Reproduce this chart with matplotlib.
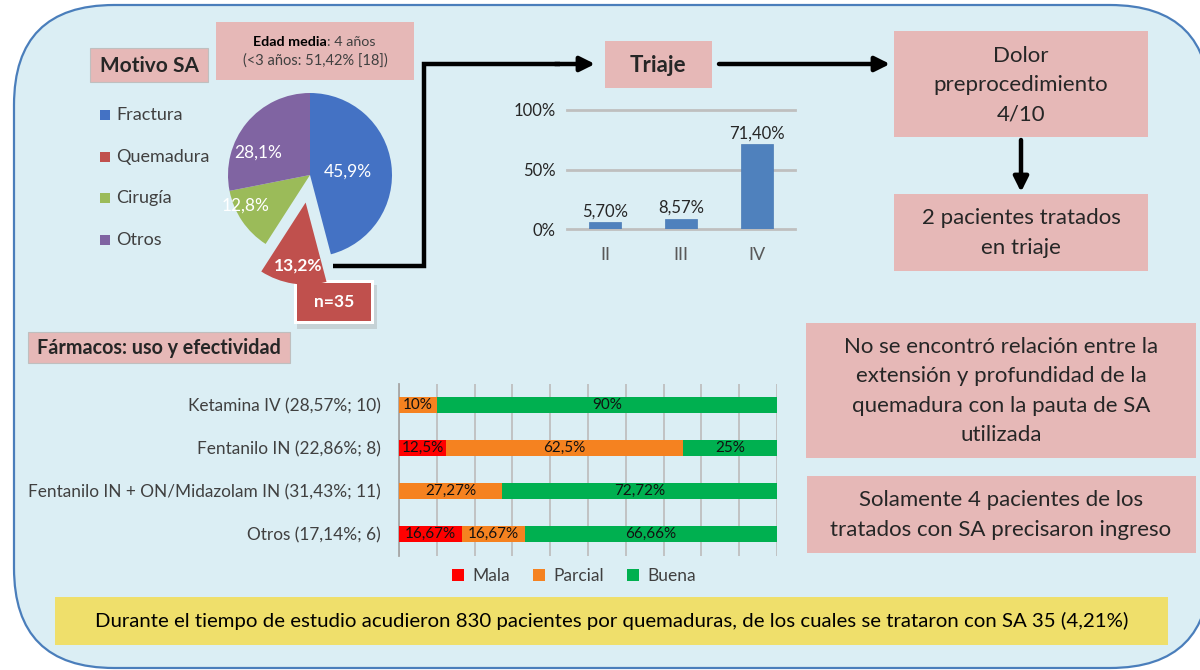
import matplotlib
matplotlib.use("Agg")
import matplotlib.pyplot as plt
from matplotlib.patches import FancyBboxPatch, Rectangle, Patch
import numpy as np

plt.rcParams['font.family'] = ['Lato', 'DejaVu Sans']

# ---------------- data ----------------
motivo_labels = ["Fractura", "Quemadura", "Cirugía", "Otros"]
motivo_values = [45.9, 13.2, 12.8, 28.1]
motivo_colors = ["#4472C4", "#C0504D", "#9BBB59", "#8064A2"]

triaje_cats = ["II", "III", "IV"]
triaje_values = [5.70, 8.57, 71.40]
triaje_labels = ["5,70%", "8,57%", "71,40%"]

farmacos = ["Ketamina IV (28,57%; 10)", "Fentanilo IN (22,86%; 8)",
            "Fentanilo IN + ON/Midazolam IN (31,43%; 11)", "Otros (17,14%; 6)"]
mala = [0, 12.5, 0, 16.67]
parcial = [10, 62.5, 27.27, 16.67]
buena = [90, 25, 72.72, 66.66]
mala_lbl = ["", "12,5%", "", "16,67%"]
parcial_lbl = ["10%", "62,5%", "27,27%", "16,67%"]
buena_lbl = ["90%", "25%", "72,72%", "66,66%"]
efect_names = ["Mala", "Parcial", "Buena"]
efect_colors = ["#FF0000", "#F58220", "#00B050"]

W, H = 1200, 670
PINK = "#E6B8B7"
TXT = "#262626"

fig = plt.figure(figsize=(12, 6.7), dpi=100)
fig.patch.set_facecolor("white")

bg = fig.add_axes([0, 0, 1, 1])
bg.set_xlim(0, W)
bg.set_ylim(H, 0)
bg.axis("off")


def frac(x0, y0, x1, y1):
    return [x0 / W, 1 - y1 / H, (x1 - x0) / W, (y1 - y0) / H]


# big rounded background
bg.add_patch(FancyBboxPatch((14, 5), 1196, 663,
                            boxstyle="round,pad=0,rounding_size=100",
                            facecolor="#DBEEF4", edgecolor="#4A7EBB", lw=1.6))


def box(x0, y0, x1, y1, color=PINK, ec="none", lw=0.8):
    bg.add_patch(Rectangle((x0, y0), x1 - x0, y1 - y0, facecolor=color,
                           edgecolor=ec, lw=lw))


# ---------- top-left: Motivo SA ----------
box(90, 48, 208, 82, ec="#BFBFBF")
bg.text(149, 66, "Motivo SA", ha="center", va="center", fontsize=15,
        fontweight="bold", color=TXT)

box(216, 22, 414, 80)
t1 = bg.text(253, 42, "Edad media", ha="left", va="center", fontsize=10.3,
             fontweight="bold", color="black")
bg.annotate(": 4 años", xy=(1, 0.5), xycoords=t1, ha="left", va="center",
            fontsize=10.3, color="#404040")
bg.text(315, 61, "(<3 años: 51,42% [18])", ha="center", va="center",
        fontsize=10.5, color="#404040")

# legend of the pie
for i, (lab, col) in enumerate(zip(motivo_labels, motivo_colors)):
    y = 115 + i * 41.7
    bg.add_patch(Rectangle((100, y - 5), 10, 10, facecolor=col, edgecolor="none"))
    bg.text(116, y, lab, ha="left", va="center", fontsize=13, color="#404040")

# pie
R = 82
cx, cy = 310, 175
axp = fig.add_axes(frac(cx - 1.5 * R, cy - 1.5 * R, cx + 1.5 * R, cy + 1.5 * R))
wedges, _, autot = axp.pie(
    motivo_values, colors=motivo_colors, startangle=90, counterclock=False,
    explode=[0, 0.34, 0, 0], radius=1,
    autopct=lambda p: f"{p:.1f}".replace(".", ",") + "%",
    wedgeprops=dict(linewidth=0), textprops=dict(color="white", fontsize=12.5))
axp.set_xlim(-1.5, 1.5)
axp.set_ylim(-1.5, 1.5)
axp.set_aspect("equal")
axp.axis("off")
pos = [(0.46, 0.04), (-0.15, -1.10), (-0.79, -0.37), (-0.63, 0.27)]
for t, p in zip(autot, pos):
    t.set_position(p)
    t.set_ha("center")
    t.set_va("center")
autot[1].set_fontweight("bold")

# n=35 box with shadow
bg.add_patch(Rectangle((297, 285), 80, 44, facecolor="#9E9E9E", alpha=0.35,
                       edgecolor="none"))
bg.add_patch(Rectangle((294, 280), 80, 44, facecolor="white", edgecolor="none"))
bg.add_patch(Rectangle((297, 283), 74, 38, facecolor="#C0504D", edgecolor="none"))
bg.text(334, 302, "n=35", ha="center", va="center", fontsize=12.5,
        color="white", fontweight="bold")

# connector line from pie to triaje
bg.plot([333, 424, 424, 560], [266, 266, 64, 64], color="black", lw=3.2,
        solid_joinstyle="miter", solid_capstyle="butt")
bg.annotate("", xy=(595, 64), xytext=(555, 64),
            arrowprops=dict(arrowstyle="-|>", color="black", lw=3.2,
                            mutation_scale=22, shrinkA=0, shrinkB=0))

# ---------- Triaje ----------
box(605, 41, 712, 88)
bg.text(658, 65, "Triaje", ha="center", va="center", fontsize=16,
        fontweight="bold", color=TXT)

bg.annotate("", xy=(890, 64), xytext=(719, 64),
            arrowprops=dict(arrowstyle="-|>", color="black", lw=3.2,
                            mutation_scale=22, shrinkA=0, shrinkB=0))

axt = fig.add_axes(frac(567, 110, 795, 229))
axt.set_facecolor("none")
bars = axt.bar(range(len(triaje_cats)), triaje_values, width=0.41,
               color="#4F81BD", edgecolor="#4A7AB5", lw=0.5, zorder=3)
axt.bar_label(bars, labels=triaje_labels, padding=2, fontsize=12,
              color="#262626")
axt.set_xlim(-0.5, 2.5)
axt.set_ylim(0, 100)
axt.set_yticks([0, 50, 100])
axt.set_yticklabels(["0%", "50%", "100%"], fontsize=12, color="#262626")
axt.set_xticks(range(len(triaje_cats)))
axt.set_xticklabels(triaje_cats, fontsize=13, color="#595959")
axt.tick_params(length=0, axis="y", pad=8)
axt.tick_params(length=0, axis="x", pad=13)
for s in axt.spines.values():
    s.set_visible(False)
for v in [0, 50, 100]:
    axt.axhline(v, color="#BFBFBF", lw=2, zorder=1, clip_on=False)

# ---------- Dolor ----------
LS = 1.58
box(894, 31, 1148, 137)
bg.text(1021, 85, "Dolor\npreprocedimiento\n4/10", ha="center", va="center",
        fontsize=16, color=TXT, linespacing=LS)
bg.annotate("", xy=(1021, 192), xytext=(1021, 140),
            arrowprops=dict(arrowstyle="-|>", color="black", lw=3.2,
                            mutation_scale=22, shrinkA=0, shrinkB=0))
box(894, 194, 1148, 271)
bg.text(1021, 233, "2 pacientes tratados\nen triaje", ha="center", va="center",
        fontsize=16, color=TXT, linespacing=LS)

# ---------- right boxes ----------
box(806, 323, 1196, 458)
bg.text(1001, 391, "No se encontró relación entre la\nextensión y profundidad de la\n"
        "quemadura con la pauta de SA\nutilizada", ha="center", va="center",
        fontsize=16, color=TXT, linespacing=LS)
box(807, 476, 1196, 553)
bg.text(1001, 515, "Solamente 4 pacientes de los\ntratados con SA precisaron ingreso",
        ha="center", va="center", fontsize=16, color=TXT, linespacing=LS)

# ---------- Fármacos ----------
box(28, 332, 290, 363, ec="#BFBFBF")
bg.text(159, 348, "Fármacos: uso y efectividad", ha="center", va="center",
        fontsize=14.2, fontweight="bold", color=TXT)

axs = fig.add_axes(frac(399, 383.5, 777, 555.5))
axs.set_facecolor("none")
y = np.arange(len(farmacos))
left = np.zeros(len(farmacos))
for vals, lbls, col, name in zip([mala, parcial, buena],
                                 [mala_lbl, parcial_lbl, buena_lbl],
                                 efect_colors, efect_names):
    b = axs.barh(y, vals, left=left, height=0.38, color=col, zorder=3, label=name)
    axs.bar_label(b, labels=lbls, label_type="center", fontsize=11,
                  color="#111111")
    left = left + np.array(vals)
axs.set_xlim(0, 100)
axs.set_ylim(3.5, -0.5)
axs.set_xticks(np.arange(0, 101, 10))
axs.set_xticklabels([])
axs.tick_params(axis="x", length=0)
axs.grid(axis="x", color="#BFBFBF", lw=1.3, zorder=0)
axs.set_yticks(y)
axs.set_yticklabels(farmacos, fontsize=12.4, color="#404040")
axs.tick_params(axis="y", length=0, pad=13)
for k, s in axs.spines.items():
    s.set_visible(k == "left")
axs.spines["left"].set_color("#A6A6A6")
axs.spines["left"].set_linewidth(1.3)
handles = [Patch(facecolor=c, label=n) for c, n in zip(efect_colors, efect_names)]
axs.legend(handles=handles, loc="upper center", bbox_to_anchor=(0.463, -0.035),
           ncol=3, frameon=False, handlelength=0.7, handleheight=0.7,
           handletextpad=0.5, columnspacing=1.3, fontsize=12.5,
           labelcolor="#404040", borderaxespad=0)

# ---------- bottom yellow banner ----------
box(55, 597, 1168, 645, color="#EFDF6B")
bg.text(612, 621, "Durante el tiempo de estudio acudieron 830 pacientes por quemaduras, "
        "de los cuales se trataron con SA 35 (4,21%)", ha="center", va="center",
        fontsize=14.7, color="black")

fig.savefig("out.png", dpi=100)
